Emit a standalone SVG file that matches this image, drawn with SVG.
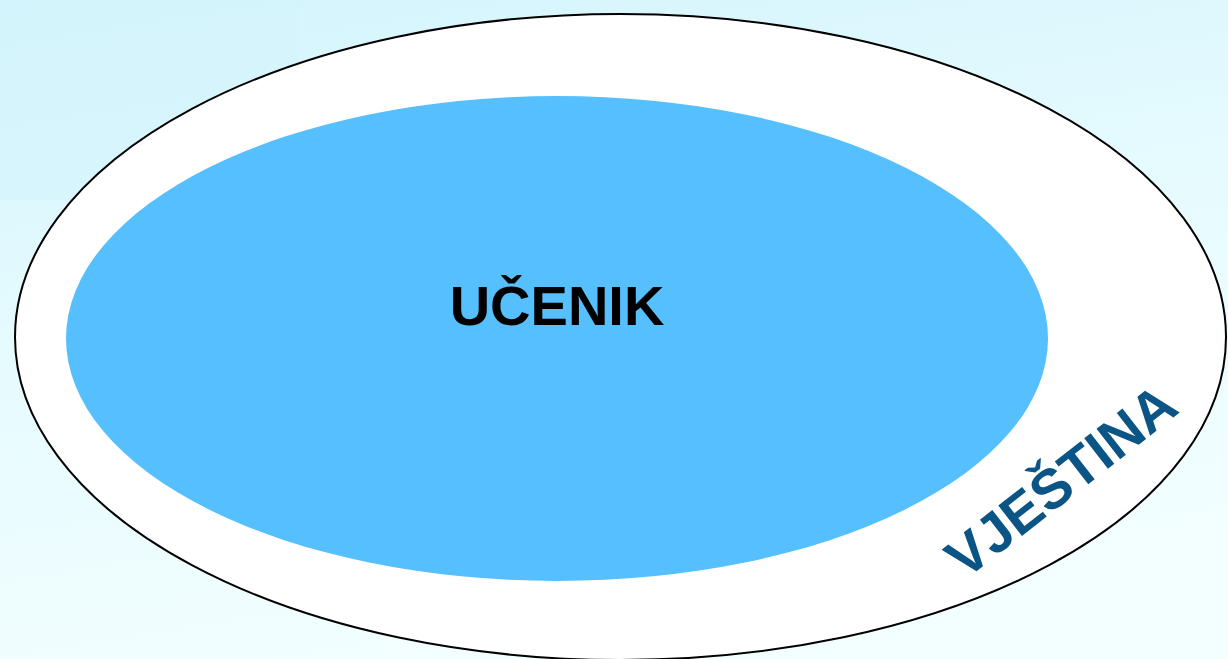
<svg xmlns="http://www.w3.org/2000/svg" width="1228" height="659" viewBox="0 0 1228 659">
<defs>
<linearGradient id="bg" x1="0" y1="0" x2="0.3" y2="1">
<stop offset="0" stop-color="#d3f4fc"/>
<stop offset="0.5" stop-color="#e6fbfe"/>
<stop offset="1" stop-color="#f2feff"/>
</linearGradient>
<style>
.lbl{font-family:"Liberation Sans",Arial,sans-serif;font-weight:bold}
</style>
</defs>
<rect width="1228" height="659" fill="url(#bg)"/>
<rect x="0" y="0" width="300" height="200" fill="#d4f4fc" opacity="0.6"/>
<g id="vjestina">
<ellipse cx="620.5" cy="337" rx="605.5" ry="323" fill="#ffffff" stroke="#000000" stroke-width="2"/>
<text class="lbl" x="0" y="0" font-size="56" fill="#0a5585" text-anchor="middle" transform="translate(1073,496) rotate(-38)">VJEŠTINA</text>
</g>
<g id="ucenik">
<ellipse cx="557" cy="338.5" rx="491" ry="242.5" fill="#56bffe"/>
<text class="lbl" x="557" y="325" font-size="56" fill="#000000" text-anchor="middle">UČENIK</text>
</g>
</svg>
